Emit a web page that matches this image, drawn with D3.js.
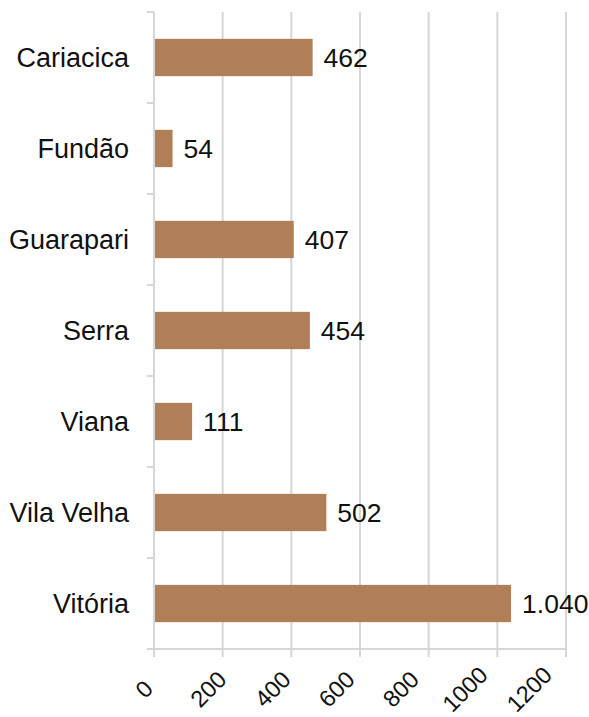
<!DOCTYPE html>
<html>
<head>
<meta charset="utf-8">
<script src="https://cdn.jsdelivr.net/npm/d3@7"></script>
<style>
  html, body { margin: 0; padding: 0; background: #fff; }
  svg { display: block; }
  text { font-family: "Liberation Sans", Arial, sans-serif; fill: #111; }
</style>
</head>
<body>
<svg id="chart" width="589" height="717"></svg>
<script>
const categories = ["Cariacica", "Fundão", "Guarapari", "Serra", "Viana", "Vila Velha", "Vitória"];
const values = [462, 54, 407, 454, 111, 502, 1040];
const valueLabels = ["462", "54", "407", "454", "111", "502", "1.040"];
const xTicks = [0, 200, 400, 600, 800, 1000, 1200];

const margin = { top: 12, right: 23, bottom: 68, left: 154 };
const width = 589, height = 717;
const svg = d3.select("#chart");

const x = d3.scaleLinear().domain([0, 1200]).range([margin.left, width - margin.right]);
const y = d3.scaleBand().domain(categories).range([margin.top, height - margin.bottom]).paddingInner(0.59).paddingOuter(0.295);
// tick labels sit on a slightly tighter spacing than the gridlines
const xLabel = d3.scaleLinear().domain([0, 1200]).range([144, 529]);
const plotBottom = height - margin.bottom;
const gridColor = "#d6d6d6";

// vertical gridlines
svg.append("g").selectAll("line").data(xTicks.slice(1)).join("line")
  .attr("x1", d => x(d)).attr("x2", d => x(d))
  .attr("y1", margin.top).attr("y2", plotBottom + 8)
  .attr("stroke", gridColor).attr("stroke-width", 2);

// bottom axis line and tick at zero
svg.append("line")
  .attr("x1", margin.left - 7).attr("x2", x(1200) + 1)
  .attr("y1", plotBottom).attr("y2", plotBottom)
  .attr("stroke", gridColor).attr("stroke-width", 2);
svg.append("line")
  .attr("x1", x(0)).attr("x2", x(0))
  .attr("y1", plotBottom).attr("y2", plotBottom + 8)
  .attr("stroke", gridColor).attr("stroke-width", 2);

// left axis line with category boundary ticks
svg.append("line")
  .attr("x1", x(0)).attr("x2", x(0))
  .attr("y1", margin.top).attr("y2", plotBottom)
  .attr("stroke", gridColor).attr("stroke-width", 2);
const boundaries = d3.range(categories.length + 1).map(i => margin.top + i * (plotBottom - margin.top) / categories.length);
svg.append("g").selectAll("line").data(boundaries).join("line")
  .attr("x1", margin.left - 7).attr("x2", margin.left)
  .attr("y1", d => d).attr("y2", d => d)
  .attr("stroke", gridColor).attr("stroke-width", 2);

// bars
svg.append("g").selectAll("rect").data(categories).join("rect")
  .attr("x", x(0) + 1)
  .attr("y", d => y(d))
  .attr("width", (d, i) => x(values[i]) - x(0) - 1)
  .attr("height", y.bandwidth())
  .attr("fill", "#b07f57");

// value labels
svg.append("g").selectAll("text").data(categories).join("text")
  .attr("x", (d, i) => x(values[i]) + 11)
  .attr("y", d => y(d) + y.bandwidth() / 2)
  .attr("dy", "0.36em")
  .attr("font-size", 26.5)
  .text((d, i) => valueLabels[i]);

// category labels
svg.append("g").selectAll("text").data(categories).join("text")
  .attr("x", 129)
  .attr("y", d => y(d) + y.bandwidth() / 2)
  .attr("dy", "0.36em")
  .attr("text-anchor", "end")
  .attr("font-size", 27)
  .text(d => d);

// rotated x tick labels
svg.append("g").selectAll("text").data(xTicks).join("text")
  .attr("transform", d => `translate(${xLabel(d)},689) rotate(-45)`)
  .attr("text-anchor", "middle")
  .attr("dy", "0.36em")
  .attr("font-size", 23.5)
  .text(d => d);
</script>
</body>
</html>
